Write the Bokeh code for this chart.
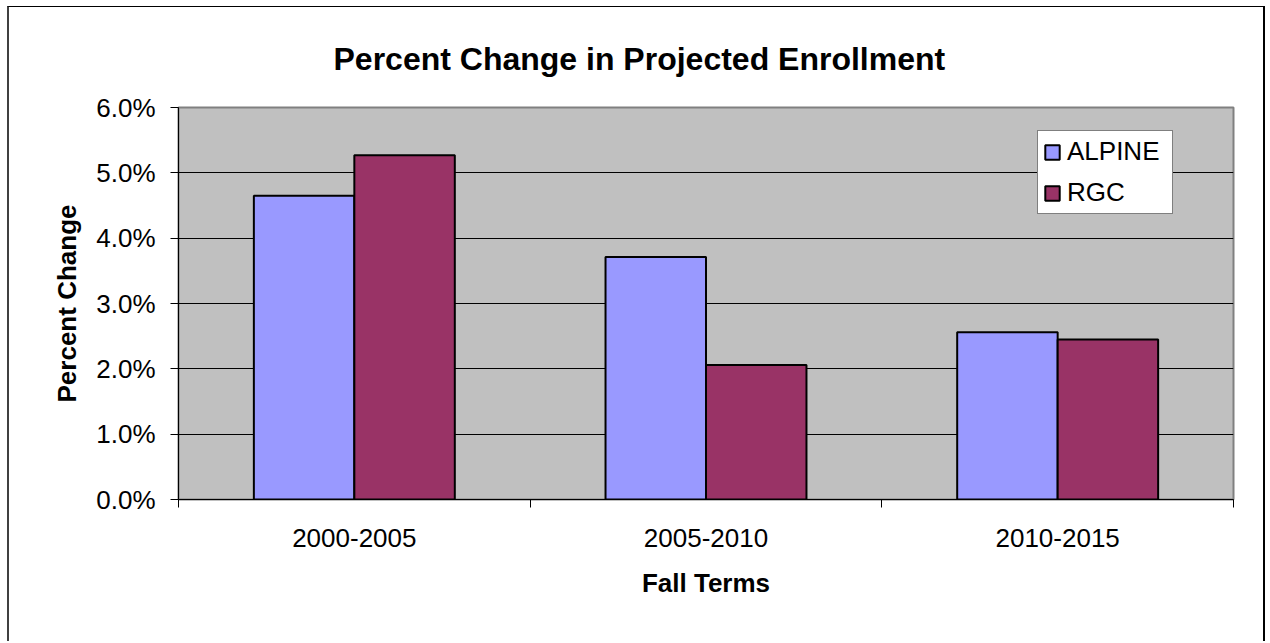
from bokeh.plotting import figure
from bokeh.models import (ColumnDataSource, FixedTicker, NumeralTickFormatter, Range1d,
                          Legend, LegendItem)
from bokeh.embed import file_html
from bokeh.resources import INLINE

# ---- data ----
categories = ["2000-2005", "2005-2010", "2010-2015"]
alpine = [0.0465, 0.0371, 0.0256]
rgc = [0.0527, 0.0206, 0.0245]
y_ticks = [0.0, 0.01, 0.02, 0.03, 0.04, 0.05, 0.06]
series_names = ["ALPINE", "RGC"]

FONT = "Liberation Sans"
bar_w = 1 / 3.5
n = len(categories)
centers = [i + 0.5 for i in range(n)]
boundaries = [float(i) for i in range(n + 1)]

src = ColumnDataSource(dict(
    cat=categories,
    x_alp=[c - bar_w / 2 for c in centers],
    x_rgc=[c + bar_w / 2 for c in centers],
    alpine=alpine,
    rgc=rgc,
))

p = figure(width=1258, height=635, output_backend="svg", toolbar_location=None,
           x_range=Range1d(0, n), y_range=Range1d(y_ticks[0], y_ticks[-1]),
           min_border_left=169, min_border_right=34, min_border_top=100, min_border_bottom=143)
p.styles = {"margin-left": "7px", "margin-top": "6px",
            "border-left": "2px solid #404040", "border-top": "1px solid black",
            "border-right": "2px solid black"}

p.background_fill_color = "#C0C0C0"
p.border_fill_color = "white"
p.outline_line_color = "#808080"
p.outline_line_width = 2

r1 = p.vbar(x="x_alp", top="alpine", width=bar_w, source=src,
            fill_color="#9999FF", line_color="black", line_width=2)
r2 = p.vbar(x="x_rgc", top="rgc", width=bar_w, source=src,
            fill_color="#993366", line_color="black", line_width=2)

# title
p.title.text = "Percent Change in Projected Enrollment"
p.title.text_font = FONT
p.title.text_font_style = "bold"
p.title.text_font_size = "32px"
p.title.text_color = "black"
p.title.align = "left"
p.title.offset = 155
p.title.standoff = 62

# x axis
xa = p.xaxis[0]
xa.ticker = FixedTicker(ticks=centers, minor_ticks=boundaries)
xa.major_label_overrides = {c: lab for c, lab in zip(centers, categories)}
xa.major_tick_out = 0
xa.major_tick_in = 0
xa.minor_tick_out = 8
xa.minor_tick_in = 0
xa.minor_tick_line_color = "black"
xa.axis_line_color = "black"
xa.major_label_text_font = FONT
xa.major_label_text_font_size = "26px"
xa.major_label_text_color = "black"
xa.major_label_standoff = 21
xa.axis_label = "Fall Terms"
xa.axis_label_text_font = FONT
xa.axis_label_text_font_style = "bold"
xa.axis_label_text_font_size = "26px"
xa.axis_label_text_color = "black"
xa.axis_label_standoff = 18

# y axis
ya = p.yaxis[0]
ya.ticker = FixedTicker(ticks=y_ticks)
ya.formatter = NumeralTickFormatter(format="0.0%")
ya.major_tick_out = 8
ya.major_tick_in = 0
ya.minor_tick_line_color = None
ya.axis_line_color = "black"
ya.major_tick_line_color = "black"
ya.major_label_text_font = FONT
ya.major_label_text_font_size = "26px"
ya.major_label_text_color = "black"
ya.major_label_standoff = 15
ya.axis_label = "Percent Change"
ya.axis_label_text_font = FONT
ya.axis_label_text_font_style = "bold"
ya.axis_label_text_font_size = "26px"
ya.axis_label_text_color = "black"
ya.axis_label_standoff = 11

p.xgrid.visible = False
p.ygrid.ticker = FixedTicker(ticks=y_ticks[1:-1])
p.ygrid.grid_line_color = "black"
p.ygrid.grid_line_width = 1

legend = Legend(items=[LegendItem(label=series_names[0], renderers=[r1]),
                       LegendItem(label=series_names[1], renderers=[r2])],
                location=(859, 285))
legend.label_text_font = FONT
legend.label_text_font_size = "26px"
legend.label_text_color = "black"
legend.label_height = 28
legend.label_width = 100
legend.glyph_height = 18
legend.glyph_width = 18
legend.spacing = 10
legend.padding = 5
legend.margin = 0
legend.label_standoff = 6
legend.border_line_color = "black"
legend.border_line_width = 1
legend.background_fill_color = "white"
legend.background_fill_alpha = 1
p.add_layout(legend)

open("out.html", "w").write(file_html(p, INLINE))
